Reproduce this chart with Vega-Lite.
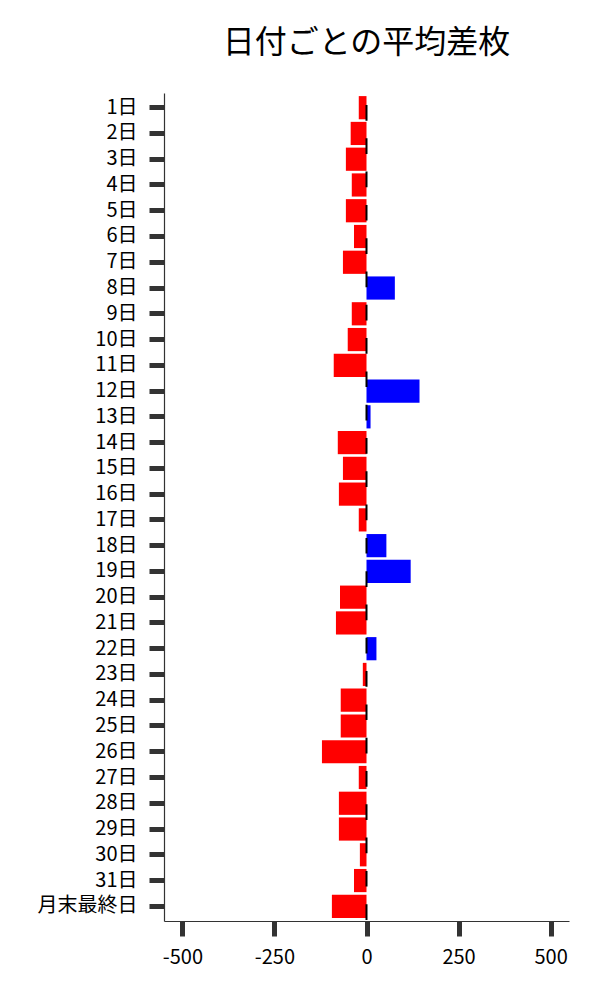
{
  "$schema": "https://vega.github.io/schema/vega-lite/v6.json",
  "autosize": {"type": "none"},
  "padding": {"left": 164, "top": 93, "right": 31, "bottom": 79},
  "width": 405,
  "height": 828,
  "title": {
    "text": "日付ごとの平均差枚",
    "font": "Noto Sans CJK JP",
    "fontSize": 32,
    "fontWeight": "normal",
    "color": "black",
    "anchor": "middle",
    "frame": "group",
    "offset": 32
  },
  "config": {
    "view": {"stroke": null},
    "font": "Noto Sans CJK JP",
    "axis": {
      "grid": false,
      "domainColor": "#333333",
      "domainWidth": 1.2,
      "tickColor": "#333333",
      "tickWidth": 5,
      "tickSize": 15,
      "labelFont": "Noto Sans CJK JP",
      "labelFontSize": 20,
      "labelFontWeight": "normal",
      "labelColor": "black",
      "title": null
    }
  },
  "layer": [
    {
      "data": {
        "values": [
          {"day": "1日", "diff": -21},
          {"day": "2日", "diff": -43},
          {"day": "3日", "diff": -56},
          {"day": "4日", "diff": -40},
          {"day": "5日", "diff": -56},
          {"day": "6日", "diff": -34},
          {"day": "7日", "diff": -64},
          {"day": "8日", "diff": 77},
          {"day": "9日", "diff": -40},
          {"day": "10日", "diff": -51},
          {"day": "11日", "diff": -89},
          {"day": "12日", "diff": 144},
          {"day": "13日", "diff": 11},
          {"day": "14日", "diff": -78},
          {"day": "15日", "diff": -64},
          {"day": "16日", "diff": -75},
          {"day": "17日", "diff": -21},
          {"day": "18日", "diff": 54},
          {"day": "19日", "diff": 120},
          {"day": "20日", "diff": -72},
          {"day": "21日", "diff": -83},
          {"day": "22日", "diff": 27},
          {"day": "23日", "diff": -10},
          {"day": "24日", "diff": -70},
          {"day": "25日", "diff": -70},
          {"day": "26日", "diff": -121},
          {"day": "27日", "diff": -21},
          {"day": "28日", "diff": -75},
          {"day": "29日", "diff": -75},
          {"day": "30日", "diff": -18},
          {"day": "31日", "diff": -34},
          {"day": "月末最終日", "diff": -94}
        ]
      },
      "mark": {"type": "bar", "cornerRadius": 0},
      "encoding": {
        "y": {
          "field": "day",
          "type": "nominal",
          "sort": null,
          "scale": {"paddingInner": 0.1, "paddingOuter": 0.12},
          "axis": {"labelPadding": 12}
        },
        "x": {
          "field": "diff",
          "type": "quantitative",
          "scale": {"domain": [-550, 550], "nice": false, "zero": false},
          "axis": {
            "values": [-500, -250, 0, 250, 500],
            "labelPadding": 11,
            "labelExpr": "datum.value < 0 ? '-' + abs(datum.value) : '' + datum.value"
          }
        },
        "color": {
          "condition": {"test": "datum.diff > 0", "value": "#0000ff"},
          "value": "#ff0000"
        }
      }
    },
    {
      "data": {"values": [{}]},
      "mark": {
        "type": "rule",
        "color": "black",
        "strokeWidth": 2,
        "strokeDash": [15.7, 17.6],
        "strokeDashOffset": 21.3
      },
      "encoding": {
        "x": {"datum": 0}
      }
    }
  ]
}
